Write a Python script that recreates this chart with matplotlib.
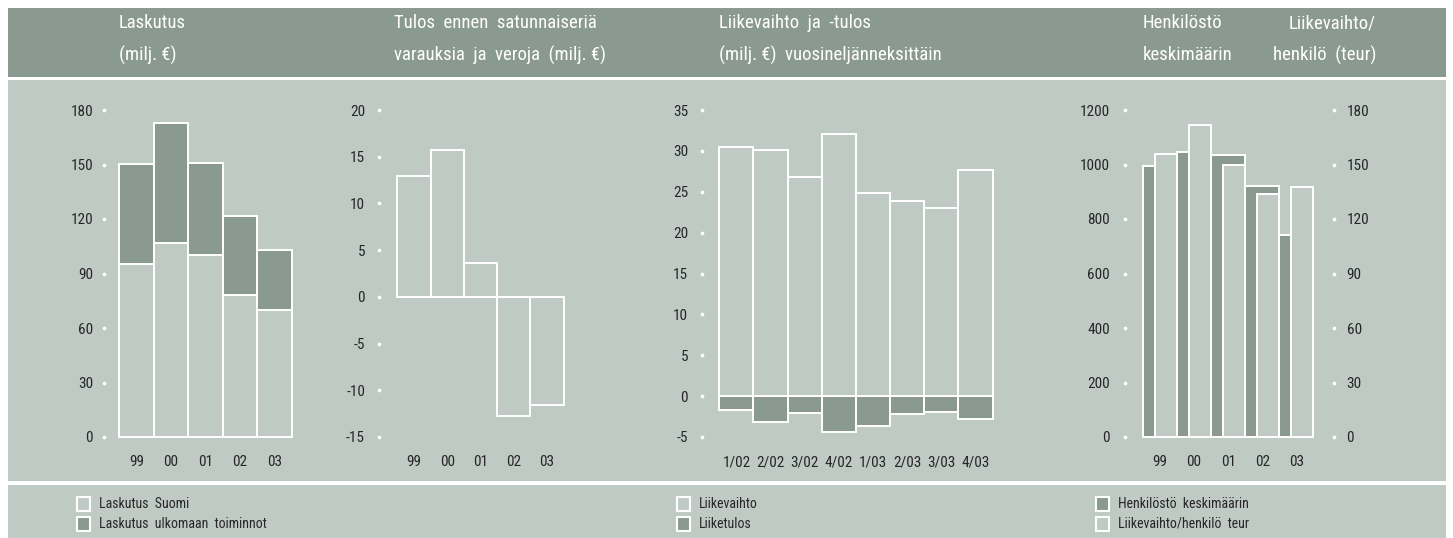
import matplotlib
matplotlib.use("Agg")
import matplotlib.pyplot as plt
from matplotlib import font_manager
from matplotlib.patches import Rectangle

# Data
years = ["99", "00", "01", "02", "03"]
laskutus_suomi = [95, 107, 100, 78, 70]
laskutus_ulkomaa = [55.5, 66, 51, 43.5, 33]

tulos = [12.9, 15.7, 3.6, -12.8, -11.6]

quarters = ["1/02", "2/02", "3/02", "4/02", "1/03", "2/03", "3/03", "4/03"]
liikevaihto = [30.5, 30.1, 26.8, 32.1, 24.8, 23.9, 23.0, 27.7]
liiketulos = [-1.7, -3.2, -2.1, -4.4, -3.6, -2.2, -1.9, -2.8]

henkilosto = [993, 1045, 1035, 922, 741]
lv_per_henkilo = [156, 172, 150, 134, 137.5]

dark = "#8b9a90"
light = "#c0cac5"
txt = "#262626"

# pick a narrow font if one is installed
names = set(f.name for f in font_manager.fontManager.ttflist)
font = "DejaVu Sans"
for cand in ["Liberation Sans Narrow", "Roboto Condensed", "Open Sans Condensed"]:
    if cand in names:
        font = cand
        break
plt.rcParams["font.family"] = [font, "DejaVu Sans"]
plt.rcParams["axes.unicode_minus"] = False

W, H = 1453, 538
fig = plt.figure(figsize=(W / 100, H / 100), dpi=100)
fig.patch.set_facecolor("white")


def band(x0, y0, x1, y1, color):
    # pixel coords, y measured from the top
    fig.add_artist(Rectangle((x0 / W, 1 - y1 / H), (x1 - x0) / W, (y1 - y0) / H,
                             transform=fig.transFigure, color=color, lw=0, zorder=0))


band(8, 8, 1446, 77, dark)
band(8, 80, 1446, 481, light)
band(8, 485, 1446, 538, light)


def make_ax(left, right, top=110, bottom=437):
    ax = fig.add_axes([left / W, 1 - bottom / H, (right - left) / W, (bottom - top) / H])
    ax.patch.set_visible(False)
    for s in ax.spines.values():
        s.set_visible(False)
    ax.tick_params(length=0, labelsize=11, colors=txt)
    return ax


def dots(ax, xpos, ticks):
    ax.scatter([xpos] * len(ticks), ticks, s=7, color="white", lw=0, clip_on=False, zorder=5)


lw = 1.4

# --- Laskutus
ax1 = make_ax(104, 295)
ax1.set_xlim(-0.946, 4.6)
ax1.set_ylim(0, 180)
x = range(len(years))
ax1.bar(x, laskutus_suomi, 1.0, color=light, edgecolor="white", lw=lw, clip_on=False)
ax1.bar(x, laskutus_ulkomaa, 1.0, bottom=laskutus_suomi, color=dark, edgecolor="white", lw=lw, clip_on=False)
t1 = list(range(0, 181, 30))
ax1.set_yticks(t1)
dots(ax1, -0.946, t1)
ax1.set_xticks(list(x))
ax1.set_xticklabels(years)
ax1.tick_params(axis="y", pad=8)
ax1.tick_params(axis="x", pad=13)

# --- Tulos
ax2 = make_ax(379, 567)
ax2.set_xlim(-1.051, 4.6)
ax2.set_ylim(-15, 20)
ax2.bar(x, tulos, 1.0, color=light, edgecolor="white", lw=lw, clip_on=False)
t2 = list(range(-15, 21, 5))
ax2.set_yticks(t2)
dots(ax2, -1.051, t2)
ax2.set_xticks(list(x))
ax2.set_xticklabels(years)
ax2.tick_params(axis="y", pad=10)
ax2.tick_params(axis="x", pad=13)

# --- Liikevaihto ja -tulos
ax3 = make_ax(702, 996)
ax3.set_xlim(-1.007, 7.6)
ax3.set_ylim(-5, 35)
xq = range(len(quarters))
ax3.bar(xq, liikevaihto, 1.0, color=light, edgecolor="white", lw=lw, clip_on=False)
ax3.bar(xq, liiketulos, 1.0, color=dark, edgecolor="white", lw=lw, clip_on=False)
t3 = list(range(-5, 36, 5))
ax3.set_yticks(t3)
dots(ax3, -1.007, t3)
ax3.set_xticks(list(xq))
ax3.set_xticklabels(quarters)
ax3.tick_params(axis="y", pad=10)
ax3.tick_params(axis="x", pad=13)

# --- Henkilosto + liikevaihto/henkilo
ax4 = make_ax(1125, 1334)
ax4.set_xlim(-1.029, 5.109)
ax4.set_ylim(0, 1200)
ax4.bar(x, henkilosto, 1.0, color=dark, edgecolor="white", lw=lw, clip_on=False)
t4 = list(range(0, 1201, 200))
ax4.set_yticks(t4)
dots(ax4, -1.029, t4)
ax4.set_xticks(list(x))
ax4.set_xticklabels(years)
ax4.tick_params(axis="y", pad=11)
ax4.tick_params(axis="x", pad=13)

ax4b = ax4.twinx()
for s in ax4b.spines.values():
    s.set_visible(False)
ax4b.set_ylim(0, 180)
ax4b.bar([i + 0.175 for i in x], lv_per_henkilo, 0.65, color=light, edgecolor="white", lw=lw, clip_on=False)
t4b = list(range(0, 181, 30))
ax4b.set_yticks(t4b)
ax4b.tick_params(length=0, labelsize=11, colors=txt, pad=9)
dots(ax4b, 5.109, t4b)

# --- headers
hdr = dict(color="white", fontsize=13.5, va="center")
def ftext(px, py, s, **kw):
    fig.text(px / W, 1 - py / H, s, **kw)

ftext(119, 23, "Laskutus", **hdr)
ftext(119, 55, "(milj. €)", **hdr)
ftext(394, 23, "Tulos  ennen  satunnaiseriä", **hdr)
ftext(394, 55, "varauksia  ja  veroja  (milj. €)", **hdr)
ftext(719, 23, "Liikevaihto  ja  -tulos", **hdr)
ftext(719, 55, "(milj. €)  vuosineljänneksittäin", **hdr)
ftext(1143, 23, "Henkilöstö", **hdr)
ftext(1143, 55, "keskimäärin", **hdr)
ftext(1376, 23, "Liikevaihto/", ha="right", **hdr)
ftext(1376, 55, "henkilö  (teur)", ha="right", **hdr)

# --- legends
def legend_item(px, py, fill, label):
    fig.add_artist(Rectangle((px / W, 1 - (py + 7) / H), 13 / W, 14 / H,
                             transform=fig.transFigure, facecolor=fill,
                             edgecolor="white", lw=1.5, zorder=3))
    fig.text((px + 22) / W, 1 - py / H, label, fontsize=10, color=txt, va="center")

legend_item(77, 504, light, "Laskutus  Suomi")
legend_item(77, 524, dark, "Laskutus  ulkomaan  toiminnot")
legend_item(677, 504, light, "Liikevaihto")
legend_item(677, 524, dark, "Liiketulos")
legend_item(1096, 504, dark, "Henkilöstö  keskimäärin")
legend_item(1096, 524, light, "Liikevaihto/henkilö  teur")

fig.savefig("out.png", dpi=100, facecolor=fig.get_facecolor())
